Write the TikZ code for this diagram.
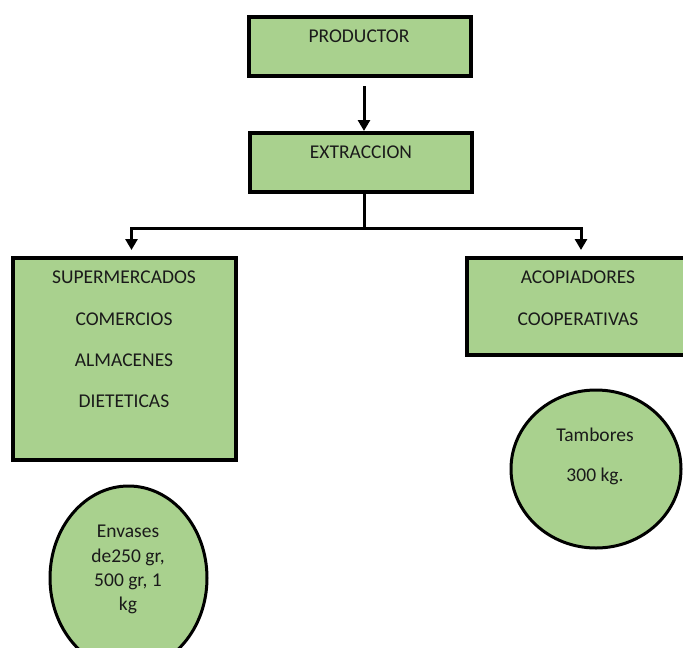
\documentclass[tikz,border=0pt]{standalone}
\usepackage{fontspec}
\setmainfont{Carlito}
\usetikzlibrary{arrows.meta,shapes.geometric}
\definecolor{leaf}{HTML}{A9D18E}
\definecolor{ink}{HTML}{1A1A1A}
\tikzset{
  box/.style={draw=black, fill=leaf, line width=4pt, rectangle, inner sep=0pt},
  disc/.style={draw=black, fill=leaf, line width=3pt, ellipse, inner sep=0pt},
  lbl/.style={anchor=base, inner sep=0pt, text=ink, font=\fontsize{19.5}{23}\selectfont},
  conn/.style={line width=3pt},
  arr/.style={line width=3pt, -{Triangle[length=11pt,width=12pt]}}
}
\begin{document}
\begin{tikzpicture}[x=1pt,y=-1pt]
  \useasboundingbox (0,0) rectangle (683,648);
  \clip (0,0) rectangle (683,648);

  % boxes
  \node[box, minimum width=222pt, minimum height=59pt] (prod) at (360,46.5) {};
  \node[box, minimum width=222pt, minimum height=59pt] (extr) at (361,162.5) {};
  \node[box, minimum width=223pt, minimum height=202pt] (left) at (124.5,359) {};
  \node[box, minimum width=233pt, minimum height=97pt] (right) at (583.5,306.5) {};

  % round labels
  \node[disc, minimum width=170pt, minimum height=158pt] (drum) at (596,469) {};
  \node[disc, minimum width=157pt, minimum height=184pt] (pack) at (128.5,578) {};

  % connectors
  \draw[arr] ([xshift=4pt,yshift=-8pt]prod.south) -- ([xshift=3pt]extr.north);
  \coordinate (split) at (364,228);
  \draw[conn] ([xshift=3pt]extr.south) -- (split);
  \draw[arr] (split) -| ([xshift=7pt,yshift=6pt]left.north);
  \draw[arr] (split) -| ([xshift=-2.5pt,yshift=6pt]right.north);

  % texts
  \node[lbl] (tprod) at (359,42) {PRODUCTOR};
  \node[lbl] (textr) at (361,158) {EXTRACCION};
  \node[lbl] (t1) at (124,283) {SUPERMERCADOS};
  \node[lbl] (t2) at (124,325) {COMERCIOS};
  \node[lbl] (t3) at (124,366) {ALMACENES};
  \node[lbl] (t4) at (124,407) {DIETETICAS};
  \node[lbl] (t5) at (578,283) {ACOPIADORES};
  \node[lbl] (t6) at (578,325) {COOPERATIVAS};
  \node[lbl] (t7) at (595,441) {Tambores};
  \node[lbl] (t8) at (595,481) {300 kg.};
  \node[lbl] (t9) at (128,537) {Envases};
  \node[lbl] (t10) at (128,562) {de250 gr,};
  \node[lbl] (t11) at (128,586) {500 gr, 1};
  \node[lbl] (t12) at (128,610) {kg};
\end{tikzpicture}
\end{document}
